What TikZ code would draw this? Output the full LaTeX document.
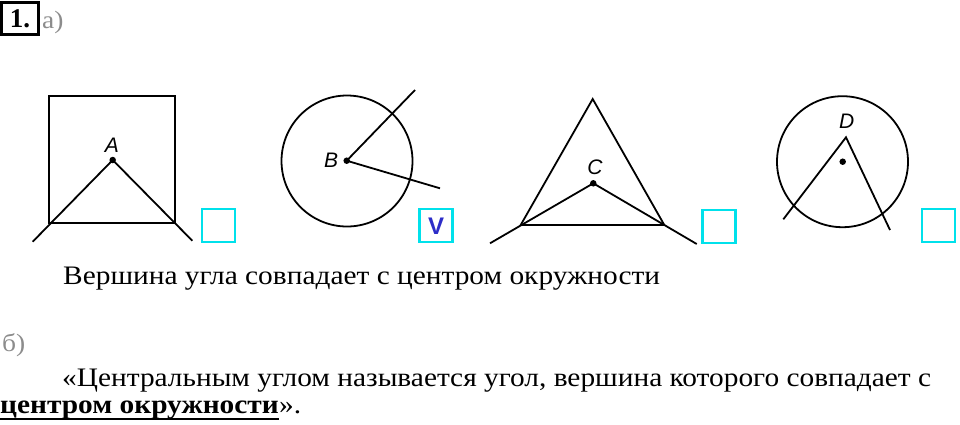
\documentclass[tikz,border=0pt]{standalone}
\usepackage{fontspec}
\setmainfont{Liberation Serif}
\setsansfont{Liberation Sans}
\newfontfamily\bodyfont[FakeStretch=1.1]{Liberation Serif}
\usepackage{xcolor}
\definecolor{boxcyan}{RGB}{0,225,235}
\definecolor{markblue}{RGB}{45,45,200}
\definecolor{labelgray}{RGB}{140,140,140}
\tikzset{
  fig/.style={line width=1.8pt, black},
  ray/.style={line width=1.8pt, black},
  answerbox/.style={draw=boxcyan, line width=2.2pt, minimum width=33pt, minimum height=33pt, inner sep=0pt},
  vdot/.style={circle, fill=black, inner sep=0pt, minimum size=6.5pt},
  ptlabel/.style={font=\sffamily\itshape\fontsize{21}{21}\selectfont, inner sep=0pt},
  bodytext/.style={font=\bodyfont\fontsize{26.7}{30}\selectfont, inner sep=0pt, anchor=base west},
  graylabel/.style={font=\bodyfont\fontsize{25}{25}\selectfont, text=labelgray, inner sep=0pt, anchor=base west},
}
\begin{document}
\begin{tikzpicture}[x=1pt,y=-1pt]
\useasboundingbox (0,0) rectangle (960,424);
% header
\node[draw, line width=2.2pt, minimum width=37pt, minimum height=32pt, inner sep=0pt, font=\bfseries\fontsize{27}{27}\selectfont] (num) at (20,18.5) {1.};
\node[graylabel] (parta) at (42,28) {а)};
% figure A
\draw[fig] (49,96) rectangle (175,223);
\coordinate (A) at (112.7,160);
\coordinate (A1) at (32.7,241.7);
\coordinate (A2) at (192.3,240.7);
\draw[ray] (A1) -- (A) -- (A2);
\node[vdot] (Adot) at (A) {};
\node[ptlabel] (Alab) at (112,145) {A};
\node[answerbox] (boxA) at (218.5,225.5) {};
% figure B
\draw[fig] (347,161) circle (65.5);
\coordinate (B) at (346.7,160.7);
\coordinate (B1) at (415,90);
\coordinate (B2) at (440,188.3);
\draw[ray] (B1) -- (B) -- (B2);
\node[vdot] (Bdot) at (B) {};
\node[ptlabel] (Blab) at (331,160.7) {B};
\node[answerbox] (boxB) at (436,225.3) {};
\node[font=\sffamily\bfseries\fontsize{24}{24}\selectfont, text=markblue, inner sep=0pt] (vmark) at (436,225.8) {V};
% figure C
\coordinate (Ct) at (592.7,99);
\coordinate (Cl) at (520.7,225);
\coordinate (Cr) at (664.3,225);
\draw[fig] (Ct) -- (Cl) -- (Cr) -- cycle;
\coordinate (C) at (593.3,183.3);
\coordinate (C1) at (490,243.3);
\coordinate (C2) at (696.7,244);
\draw[ray] (C1) -- (C) -- (C2);
\node[vdot] (Cdot) at (C) {};
\node[ptlabel] (Clab) at (595,167.3) {C};
\node[answerbox] (boxC) at (719,226.2) {};
% figure D
\draw[fig] (842.5,161.7) circle (65.5);
\node[vdot] (Ddot) at (842.7,161.7) {};
\coordinate (D) at (846,137.3);
\coordinate (D1) at (783.3,219.3);
\coordinate (D2) at (890,230);
\draw[ray] (D1) -- (D) -- (D2);
\node[ptlabel] (Dlab) at (846.7,121.7) {D};
\node[answerbox] (boxD) at (938.8,225.8) {};
% text
\node[bodytext] (ans) at (63,284) {Вершина угла совпадает с центром окружности};
\node[graylabel] (partb) at (2,351) {б)};
\node[bodytext] (def1) at (62,386.5) {«Центральным углом называется угол, вершина которого совпадает с};
\node[bodytext] (def2u) at (0,413) {\bfseries центром окружности};
\node[bodytext, anchor=base west] (def2r) at (def2u.base east) {».};
\draw[line width=2pt] ([yshift=-5.5pt]def2u.base west) -- ([yshift=-5.5pt]def2u.base east);
\end{tikzpicture}
\end{document}
